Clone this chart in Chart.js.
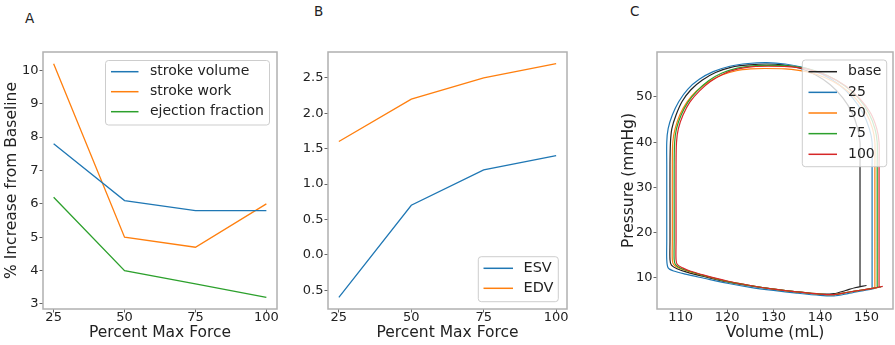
<!DOCTYPE html>
<html><head><meta charset="utf-8">
<script src="https://cdn.jsdelivr.net/npm/chart.js@4/dist/chart.umd.min.js"></script>
<style>
html,body{margin:0;padding:0;background:#fff;}
body{width:895px;height:345px;position:relative;overflow:hidden;font-family:"DejaVu Sans",sans-serif;}
canvas{position:absolute;top:0;}
.lbl{position:absolute;font-size:13.5px;color:#222;line-height:14px;}
</style></head><body>
<div class="lbl" style="left:25px;top:11px">A</div>
<div class="lbl" style="left:314px;top:4px">B</div>
<div class="lbl" style="left:630px;top:4px">C</div>
<canvas id="cA" width="290" height="345" style="left:0px"></canvas>
<canvas id="cB" width="295" height="345" style="left:290px"></canvas>
<canvas id="cC" width="305" height="345" style="left:590px"></canvas>
<script>
// ---------- DATA ----------
const forceLevels = [25, 50, 75, 100];
// Panel A
const strokeVolume = [7.8, 6.1, 5.8, 5.8];
const strokeWork = [10.2, 5.0, 4.7, 6.0];
const ejectionFraction = [6.2, 4.0, 3.6, 3.2];
// Panel B
const esv = [-0.6, 0.7, 1.2, 1.4];
const edv = [1.6, 2.2, 2.5, 2.7];
// Panel C (pressure-volume loops)
const loopLabels = ['base', '25', '50', '75', '100'];
const baseVolume = [148.6,148.6,148.6,148.6,148.6, 148.1,146.9,144.9,142.2,139,135.5,132, 128.5, 124.8,121,117.5,114.6,112.2,110.3,109.0,108.1,107.8, 107.7,107.7,107.7,107.7, 108.0,109.2,111.5,115,120,125,130,135,140,143,145.5,147.5,150.0];
const basePressure = [8.0,15,25,35,40, 43,46.5,49.8,52.7,54.9,56.4,57.1, 57.3, 57.1,56.6,55.4,53.7,51.6,49,46,43,40, 35,25,18,14, 12.8,12.0,11.2,10.3,9.1,8.2,7.5,6.9,6.4,6.5,7.2,7.8,8.3];
const v25Volume = [151.2,151.2,151.2,151.2,151.2, 150.6,149.2,147.0,144.0,140.5,136.5,132.5, 128.5, 124.5,120.6,117,114,111.5,109.6,108.2,107.3,107.0, 107.0,107.0,107.0,107.0, 107.3,108.5,111,115,120,125,130,135,140,143,146,149,151.5,152.2];
const v25Pressure = [7.8,15,25,35,40, 43,46.5,49.8,52.8,55.0,56.5,57.3, 57.6, 57.4,56.8,55.6,53.9,51.7,49,46,43,40, 35,25,18,14, 12.2,11.5,10.8,9.9,8.8,7.9,7.2,6.6,6.1,6.0,6.5,7.1,7.6,7.8];
const v50Volume = [151.8,151.8,151.8,151.8,151.8, 151.3,150.0,147.8,144.8,141.0,137.0,132.5, 128.0, 125,122,118.7,115.8,113.3,111.3,109.8,108.8,108.3, 108.2,108.2,108.2,108.2, 108.5,109.7,112,115,120,125,130,135,140,143,146,149,151.5,152.6];
const v50Pressure = [7.9,15,25,35,40, 43,46.3,49.5,52.2,54.3,55.6,56.2, 56.3, 56.2,55.8,54.8,53.2,51.2,48.8,46,43,40, 35,25,18,14, 12.9,12.1,11.3,10.5,9.2,8.3,7.5,6.9,6.4,6.3,6.8,7.3,7.7,7.9];
const v75Volume = [152.3,152.3,152.3,152.3,152.3, 151.8,150.5,148.3,145.3,141.5,137.3,133.0, 128.8, 125.5,122.2,118.9,116,113.6,111.6,110.1,109.1,108.7, 108.6,108.6,108.6,108.6, 108.9,110.0,112,115,120,125,130,135,140,143,146,149,151.5,153.1];
const v75Pressure = [7.9,15,25,35,40, 43,46.4,49.7,52.5,54.8,56.3,56.9, 57.0, 56.9,56.4,55.3,53.6,51.4,48.9,46,43,40, 35,25,18,14, 12.9,12.1,11.4,10.5,9.2,8.3,7.5,6.9,6.4,6.3,6.8,7.3,7.7,8.0];
const v100Volume = [152.7,152.7,152.7,152.7,152.7, 152.2,150.9,148.6,145.6,141.8,137.5,133.0, 128.8, 125.6,122.4,119.2,116.4,114,112,110.5,109.5,109.1, 109.0,109.0,109.0,109.0, 109.3,110.4,112,115,120,125,130,135,140,143,146,149,151.5,153.5];
const v100Pressure = [8.0,15,25,35,40, 43,46.4,49.6,52.4,54.6,56.1,56.7, 56.8, 56.7,56.2,55.1,53.4,51.3,48.9,46,43,40, 35,25,18,14, 12.9,12.2,11.5,10.6,9.3,8.3,7.5,6.9,6.4,6.3,6.8,7.3,7.7,8.1];

// ---------- HELPERS ----------
const FONT = "'DejaVu Sans', sans-serif";
const TXT = '#222';
const C_BLUE = '#1f77b4', C_ORANGE = '#ff7f0e', C_GREEN = '#2ca02c', C_RED = '#d62728', C_BLACK = '#222222';
const pts = (xs, ys) => xs.map((x, i) => ({x, y: ys[i]}));

const framePlugin = {
  id: 'frame',
  afterDatasetsDraw(chart) {
    const {ctx, chartArea: a} = chart;
    ctx.save();
    ctx.strokeStyle = '#b0b0b0';
    ctx.lineWidth = 1.5;
    ctx.strokeRect(a.left, a.top, a.right - a.left, a.bottom - a.top);
    ctx.restore();
  }
};
const boxLegend = {
  id: 'boxLegend',
  afterDatasetsDraw(chart, args, o) {
    const ctx = chart.ctx;
    ctx.save();
    ctx.beginPath();
    ctx.roundRect(o.x, o.y, o.w, o.h, 3);
    ctx.fillStyle = 'rgba(255,255,255,0.8)';
    ctx.fill();
    ctx.strokeStyle = 'rgba(200,200,200,0.9)';
    ctx.lineWidth = 1;
    ctx.stroke();
    chart.data.datasets.forEach((ds, i) => {
      const yy = o.row0 + i * o.rowStep;
      ctx.strokeStyle = ds.borderColor;
      ctx.lineWidth = 1.5;
      ctx.beginPath(); ctx.moveTo(o.l0, yy); ctx.lineTo(o.l1, yy); ctx.stroke();
      ctx.fillStyle = TXT;
      ctx.font = o.fontSize + 'px ' + FONT;
      ctx.textBaseline = 'middle';
      ctx.textAlign = 'left';
      ctx.fillText(ds.label, o.tx, yy);
    });
    ctx.restore();
  }
};

function xScale(min, max, step, title, fmt) {
  return {
    type: 'linear', position: 'bottom', min, max,
    afterFit: s => { s.height = 36; },
    grid: {drawOnChartArea: false, drawTicks: true, tickLength: 3.5, tickColor: '#666', tickWidth: 1},
    border: {display: false},
    ticks: {stepSize: step, includeBounds: false, autoSkip: false, maxRotation: 0, padding: -3,
            color: TXT, font: {family: FONT, size: 13}, callback: fmt},
    title: {display: true, text: title, color: TXT, font: {family: FONT, size: 15.5}, padding: {top: 0, bottom: 3}}
  };
}
function yScale(min, max, step, width, title, titlePad, fmt) {
  return {
    type: 'linear', position: 'left', min, max,
    afterFit: s => { s.width = width; },
    grid: {drawOnChartArea: false, drawTicks: true, tickLength: 3.5, tickColor: '#666', tickWidth: 1},
    border: {display: false},
    ticks: {stepSize: step, includeBounds: false, autoSkip: false, padding: 1,
            color: TXT, font: {family: FONT, size: 13}, callback: fmt},
    title: {display: !!title, text: title || '', color: TXT, font: {family: FONT, size: 15.5}, padding: {top: titlePad, bottom: 0}}
  };
}
function baseOptions(pad, scales, legendOpts) {
  return {
    responsive: false, animation: false, devicePixelRatio: 1,
    layout: {padding: pad},
    plugins: {legend: {display: false}, tooltip: {enabled: false}, boxLegend: legendOpts},
    elements: {point: {radius: 0}},
    scales
  };
}
const lineDs = (label, data, color, extra) => Object.assign({
  label, data, borderColor: color, backgroundColor: color, borderWidth: 1.3,
  showLine: true, pointRadius: 0, fill: false, tension: 0
}, extra || {});

// ---------- PANEL A ----------
new Chart(document.getElementById('cA'), {
  type: 'scatter',
  data: {datasets: [
    lineDs('stroke volume', pts(forceLevels, strokeVolume), C_BLUE),
    lineDs('stroke work', pts(forceLevels, strokeWork), C_ORANGE),
    lineDs('ejection fraction', pts(forceLevels, ejectionFraction), C_GREEN)
  ]},
  options: baseOptions({left: 0, right: 13, top: 52, bottom: 0}, {
    x: xScale(21.25, 103.75, 25, 'Percent Max Force', v => String(v)),
    y: yScale(2.85, 10.55, 1, 43, '% Increase from Baseline', 3, v => String(v))
  }, {x: 105.5, y: 60.5, w: 164, h: 64.5, row0: 71.7, rowStep: 20, l0: 111, l1: 138.5, tx: 150, fontSize: 14}),
  plugins: [framePlugin, boxLegend]
});

// ---------- PANEL B ----------
new Chart(document.getElementById('cB'), {
  type: 'scatter',
  data: {datasets: [
    lineDs('ESV', pts(forceLevels, esv), C_BLUE),
    lineDs('EDV', pts(forceLevels, edv), C_ORANGE)
  ]},
  options: baseOptions({left: 0, right: 18, top: 52, bottom: 0}, {
    x: xScale(21.25, 103.75, 25, 'Percent Max Force', v => String(v)),
    y: yScale(-0.765, 2.865, 0.5, 38, '', 0, v => Math.abs(v).toFixed(1))
  }, {x: 188.3, y: 256.7, w: 80, h: 45, row0: 268.3, rowStep: 20, l0: 193.5, l1: 223, tx: 233.5, fontSize: 14.5}),
  plugins: [framePlugin, boxLegend]
});

// ---------- PANEL C ----------
const loopVol = [baseVolume, v25Volume, v50Volume, v75Volume, v100Volume];
const loopPres = [basePressure, v25Pressure, v50Pressure, v75Pressure, v100Pressure];
const loopColors = [C_BLACK, C_BLUE, C_ORANGE, C_GREEN, C_RED];
new Chart(document.getElementById('cC'), {
  type: 'scatter',
  data: {datasets: loopLabels.map((lab, i) =>
    lineDs(lab, pts(loopVol[i], loopPres[i]), loopColors[i], {tension: 0.3, order: -i, borderWidth: 1.2}))},
  options: baseOptions({left: 0, right: 2, top: 52, bottom: 0}, {
    x: xScale(104.9, 155.7, 10, 'Volume (mL)', v => String(v)),
    y: yScale(3.1, 59.95, 10, 67, 'Pressure (mmHg)', 30, v => String(v))
  }, {x: 212.3, y: 60, w: 84.4, h: 106.7, row0: 71.7, rowStep: 20.65, l0: 218.5, l1: 247, tx: 258, fontSize: 14}),
  plugins: [framePlugin, boxLegend]
});
</script>
</body></html>
